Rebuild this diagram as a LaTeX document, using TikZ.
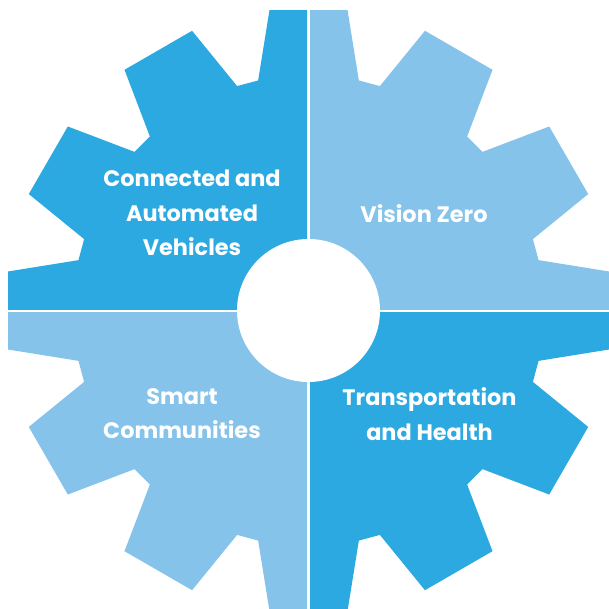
\documentclass[tikz,border=0pt]{standalone}
\usepackage{fontspec}
\newfontfamily\labfont{Poppins}
\definecolor{gearDark}{RGB}{44,169,225}
\definecolor{gearLight}{RGB}{133,195,235}
\newcommand\gearoutline{(77.65:235.5) \foreach \k in {0,...,11}{ -- ({90+30*\k-12.35}:235.5) -- ({90+30*\k-7.4}:303) -- ({90+30*\k+7.4}:303) -- ({90+30*\k+12.35}:235.5)} -- cycle}
\begin{document}
\begin{tikzpicture}[x=1pt,y=1pt,
  gearlabel/.style={text=white,font=\labfont\bfseries\fontsize{22.4}{34.3}\selectfont,align=center,inner sep=0pt}]
\useasboundingbox (0,0) rectangle (608,-609);
\begin{scope}[shift={(308.5,-310.5)}]
  \begin{scope}
    \clip (-320,1.5) rectangle (-1.5,320);
    \fill[gearDark] \gearoutline;
  \end{scope}
  \begin{scope}
    \clip (1.5,1.5) rectangle (320,320);
    \fill[gearLight] \gearoutline;
  \end{scope}
  \begin{scope}
    \clip (-320,-1.5) rectangle (-1.5,-320);
    \fill[gearLight] \gearoutline;
  \end{scope}
  \begin{scope}
    \clip (1.5,-1.5) rectangle (320,-320);
    \fill[gearDark] \gearoutline;
  \end{scope}
  \fill[white] (0,0) circle (71.5);
  \node[gearlabel] (cav) at (-116.5,97.5) {Connected and\\Automated\\Vehicles};
  \node[gearlabel] (vz) at (115.5,97) {Vision Zero};
  \node[gearlabel] (sc) at (-126.5,-103) {Smart\\Communities};
  \node[gearlabel] (th) at (121,-103.5) {Transportation\\and Health};
\end{scope}
\end{tikzpicture}
\end{document}
